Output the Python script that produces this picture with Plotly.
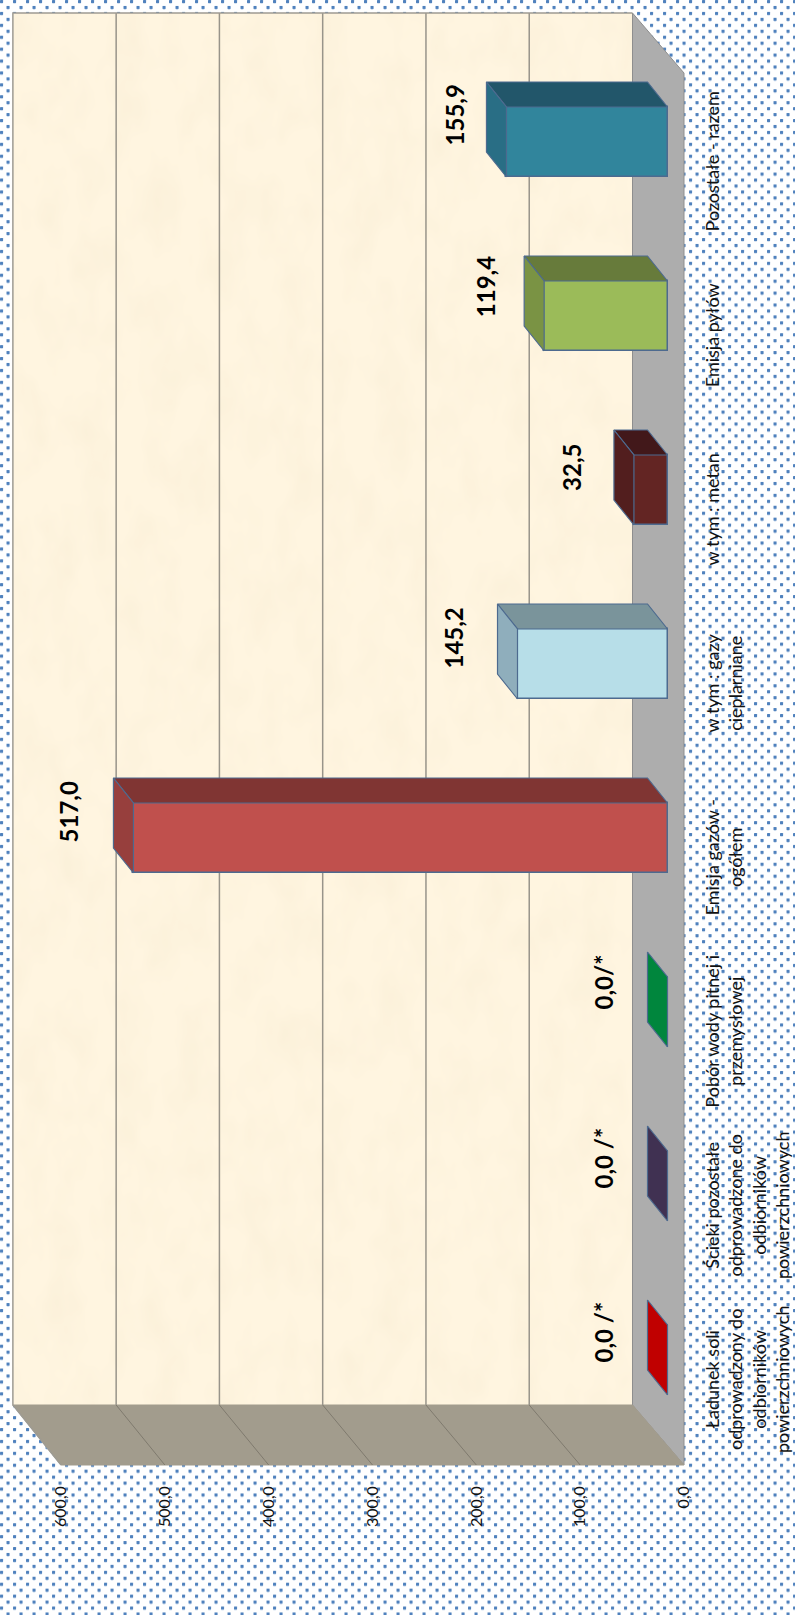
import base64
import plotly.graph_objects as go

# ---- data ----
categories = [
    "Ładunek soli<br>odprowadzony do<br>odbiorników<br>powierzchniowych",
    "Ścieki pozostałe<br>odprowadzone do<br>odbiorników<br>powierzchniowych",
    "Pobór wody pitnej i<br>przemysłowej",
    "Emisja gazów -<br>ogółem",
    "w tym : gazy<br>cieplarniane",
    "w tym : metan",
    "Emisja pyłów",
    "Pozostałe - razem",
]
values = [0.0, 0.0, 0.0, 517.0, 145.2, 32.5, 119.4, 155.9]
value_labels = ["0,0 /*", "0,0 /*", "0,0/*", "517,0", "145,2", "32,5", "119,4", "155,9"]
value_ticks = [0, 100, 200, 300, 400, 500, 600]
value_tick_labels = ["0,0", "100,0", "200,0", "300,0", "400,0", "500,0", "600,0"]
front_colors = ["#C00000", "#403152", "#00863D", "#C0504D", "#B7DEE8", "#632523", "#9BBB59", "#31859C"]
upper_colors = ["#C00000", "#403152", "#00863D", "#803533", "#7A949B", "#42181A", "#677B3B", "#22566A"]
side_colors = ["#C00000", "#403152", "#00863D", "#973F3D", "#8FAEBC", "#521E1E", "#7A9344", "#296E85"]
label_nudge_px = [(-3, 2), (-3, 2), (-3, 4), (-3, 0), (-3, 0), (-1, -3), (3, 3), (10, 1)]

# ---- page geometry (pixels of the 795x1615 page) ----
W, H = 795, 1615
cat_step = 174.0
frame_zero, frame_scale, frame_y0 = 684.0, 1.0383, 1378.0
bar_zero, bar_scale, bar_y0 = 667.5, 1.033, 1360.0
frame_dx, frame_dy = 49.6, 60.0 / cat_step
back_ratio = 1.0327 / frame_scale
bar_dx, bar_dy = 20.0 / bar_scale, 25.0 / cat_step
half_width = 35.0 / cat_step
tick_label_shift = 4.0 / cat_step
top_v = 600


def back_x(v):
    return frame_dx + v * back_ratio


def x_range(zero, scale):
    return [zero / scale, (zero - W) / scale]


def y_range(y0):
    return [(y0 - H) / cat_step, y0 / cat_step]


def svg_uri(svg):
    return "data:image/svg+xml;base64," + base64.b64encode(svg.encode()).decode()


dots_svg = f"""<svg xmlns='http://www.w3.org/2000/svg' width='{W}' height='{H}'>
<defs><pattern id='p' width='13' height='11.9' patternUnits='userSpaceOnUse'>
<rect x='0' y='0' width='3.1' height='3.1' rx='.6' fill='#4F81BD'/>
<rect x='6.5' y='5.95' width='3.1' height='3.1' rx='.6' fill='#4F81BD'/>
</pattern></defs>
<rect width='{W}' height='{H}' fill='#FFFFFF'/><rect width='{W}' height='{H}' fill='url(#p)'/></svg>"""

wall_svg = """<svg xmlns='http://www.w3.org/2000/svg' width='622' height='1394'>
<defs><filter id='n' x='0' y='0' width='100%' height='100%'>
<feTurbulence type='fractalNoise' baseFrequency='0.03 0.018' numOctaves='3' seed='4'/>
<feColorMatrix values='0 0 0 0 .95  0 0 0 0 .86  0 0 0 0 .68  1.3 0 0 0 -.5'/>
</filter></defs>
<rect width='622' height='1394' fill='#FFF5E0'/>
<rect width='622' height='1394' filter='url(#n)'/></svg>"""

fig = go.Figure()


def poly(xs, ys, fill, line=None, lw=1.0, xa="x", ya="y"):
    fig.add_trace(go.Scatter(
        x=xs + xs[:1], y=ys + ys[:1], mode="lines", fill="toself", fillcolor=fill,
        line=dict(color=line or fill, width=lw), xaxis=xa, yaxis=ya,
        hoverinfo="skip", showlegend=False,
    ))


def seg(xs, ys, color, lw=1.5):
    fig.add_trace(go.Scatter(x=xs, y=ys, mode="lines", line=dict(color=color, width=lw),
                             hoverinfo="skip", showlegend=False))


y_lo, y_hi = -0.5, len(categories) - 0.5
# floor strip and lower side wall of the frame
poly([back_x(0), 0, 0, back_x(0)], [y_lo + frame_dy, y_lo, y_hi, y_hi + frame_dy], "#ADADAD", "#8E8E8E", 1)
poly([back_x(0), back_x(top_v), top_v, 0],
     [y_lo + frame_dy, y_lo + frame_dy, y_lo, y_lo], "#A29C8D", "#A29C8D", 1)

# gridlines: back wall plus continuation on the side wall
for v in value_ticks[1:-1]:
    seg([back_x(v), back_x(v)], [y_hi + frame_dy, y_lo + frame_dy], "#98948A", 1.5)
    seg([back_x(v), v], [y_lo + frame_dy, y_lo], "#7F7A6E", 1)

# wall outline
seg([back_x(0), back_x(top_v), back_x(top_v), top_v],
    [y_hi + frame_dy, y_hi + frame_dy, y_lo + frame_dy, y_lo], "#9E9B93", 1.5)

# bars: front faces through the bar trace, depth faces derived from the values
indices = list(range(len(categories)))
fig.add_trace(go.Bar(
    x=values, y=indices, orientation="h", width=2 * half_width,
    marker=dict(color=front_colors, line=dict(color="#4D6A8F", width=1.5)),
    xaxis="x2", yaxis="y2", hoverinfo="skip", showlegend=False,
))
for i, v in zip(indices, values):
    if v > 0:
        poly([0, v, v + bar_dx, bar_dx],
             [i + half_width, i + half_width, i + half_width + bar_dy, i + half_width + bar_dy],
             upper_colors[i], "#4D6A8F", 1.2, "x2", "y2")
    poly([v, v, v + bar_dx, v + bar_dx],
         [i - half_width, i + half_width, i + half_width + bar_dy, i - half_width + bar_dy],
         side_colors[i], "#4D6A8F", 1.2, "x2", "y2")

annotations = []
for i, (v, txt, (nx, ny)) in enumerate(zip(values, value_labels, label_nudge_px)):
    annotations.append(dict(
        x=v + bar_dx, y=i + 26.0 / cat_step, xref="x2", yref="y2", text=txt, textangle=-90,
        showarrow=False, xanchor="center", yanchor="middle", xshift=-42 + nx, yshift=ny,
        font=dict(family="Lato", size=24, color="#000000", weight="bold"),
    ))

fig.update_layout(
    width=W, height=H, margin=dict(l=0, r=0, t=0, b=0), autosize=False,
    paper_bgcolor="#FFFFFF", plot_bgcolor="rgba(0,0,0,0)", showlegend=False, bargap=0,
    xaxis=dict(
        domain=[0, 1], range=x_range(frame_zero, frame_scale), tickmode="array",
        tickvals=value_ticks, ticktext=value_tick_labels, tickangle=-90, showgrid=False,
        zeroline=False, showline=False, ticks="", anchor="free", position=1 - 1467 / H,
        ticklabelstandoff=15, tickfont=dict(family="Lato", size=16, color="#111111"),
    ),
    yaxis=dict(
        domain=[0, 1], range=y_range(frame_y0), tickmode="array",
        tickvals=[i - tick_label_shift for i in indices],
        ticktext=categories, tickangle=-90, showgrid=False, zeroline=False, showline=False,
        ticks="", side="right", anchor="free", position=frame_zero / W,
        ticklabelstandoff=16, tickfont=dict(family="Lato", size=18, color="#111111"),
    ),
    xaxis2=dict(domain=[0, 1], range=x_range(bar_zero, bar_scale), overlaying="x", visible=False),
    yaxis2=dict(domain=[0, 1], range=y_range(bar_y0), overlaying="y", visible=False),
    annotations=annotations,
    images=[
        dict(source=svg_uri(dots_svg), xref="paper", yref="paper", x=0, y=1, sizex=1, sizey=1,
             xanchor="left", yanchor="top", sizing="stretch", layer="below"),
        dict(source=svg_uri(wall_svg), xref="x", yref="y", x=back_x(top_v), y=y_hi + frame_dy,
             sizex=back_x(top_v) - back_x(0), sizey=y_hi - y_lo, xanchor="left", yanchor="top",
             sizing="stretch", layer="below"),
    ],
)

fig.write_html("out.html", config=dict(displayModeBar=False),
               post_script="document.body.style.margin='0';")
